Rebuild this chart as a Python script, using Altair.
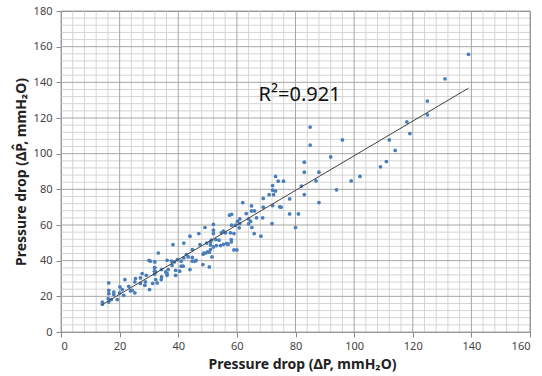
import altair as alt
import pandas as pd

# measured pressure drop (x) vs predicted pressure drop (y), mmH2O
meas = [14.1, 14.1, 16.3, 16.3, 16.3, 16.1, 17.2, 16.3, 18.0, 18.0, 20.0, 19.2, 20.1, 20.9,
        21.8, 23.1, 24.3, 23.7, 25.2, 25.4, 25.2, 21.4,
        27.7, 29.1, 27.1, 28.8, 27.1, 28.6, 30.2, 30.0, 31.3, 32.8, 32.3, 34.2, 34.3, 32.3,
        34.3, 32.0, 32.0, 33.2, 36.6, 36.2, 37.7, 31.9, 31.9, 31.9, 35.7, 36.2, 39.1, 30.5,
        36.2, 38.7, 39.7, 41.0, 41.0, 41.7, 37.9, 39.1, 40.5, 44.0, 38.2, 41.9, 44.0, 44.8,
        42.8, 43.4, 41.9, 44.8, 46.1, 44.8, 45.7,
        47.0, 49.1, 52.0, 52.0, 52.0, 52.8, 54.4, 56.5, 51.3, 51.0, 52.0, 47.4, 48.5, 49.4,
        50.6, 51.5, 48.4, 50.6, 55.4, 54.7, 56.1, 57.8, 53.9, 51.0, 49.7, 55.4, 56.7, 51.0,
        50.0, 48.7, 53.0,
        57.5, 58.2, 61.0, 60.2, 61.0, 59.5, 58.2, 60.8, 59.0, 58.1, 58.1, 57.0, 59.0, 60.0,
        62.0, 65.0, 65.0, 66.0, 63.2, 64.0, 64.7, 64.0, 65.1, 65.9,
        66.7, 68.8, 72.0, 68.2, 69.0, 69.0, 71.0, 72.5, 72.2, 73.2, 72.2, 73.2, 74.1, 75.9,
        72.2, 74.6, 75.1,
        78.0, 78.0, 81.0, 80.0, 82.0, 83.0, 83.0, 83.0, 85.0, 85.0, 87.0, 88.0, 88.0,
        92.0, 94.0, 96.0, 99.0, 102.0, 109.0, 111.0, 112.0, 114.0, 118.0, 119.0, 125.0,
        125.0, 131.0, 139.0]
pred = [16.8, 15.5, 27.5, 23.4, 21.5, 18.7, 18.2, 16.8, 22.4, 21.0, 21.9, 18.2, 25.3, 23.8,
        29.4, 25.6, 23.4, 23.0, 28.1, 30.0, 21.9, 20.6,
        32.8, 31.8, 30.3, 28.1, 27.2, 26.2, 23.8, 40.2, 27.2, 27.5, 29.4, 29.4, 30.9, 33.7,
        35.0, 36.1, 39.3, 44.3, 35.0, 32.8, 39.8, 35.9, 34.1, 32.4, 33.7, 31.8, 31.8, 39.7,
        40.2, 39.3, 40.6, 39.7, 36.9, 36.9, 37.4, 34.6, 34.1, 35.0, 49.0, 49.9, 53.7, 46.2,
        43.4, 42.1, 41.5, 41.8, 40.2, 39.7, 39.7,
        55.2, 58.6, 60.3, 57.1, 55.2, 51.8, 48.5, 49.6, 51.5, 48.8, 47.7, 49.0, 43.6, 44.3,
        44.7, 42.1, 37.8, 36.5, 56.5, 55.6, 55.6, 55.6, 51.5, 50.5, 49.9, 49.2, 49.6, 46.2,
        45.0, 44.3, 48.5,
        65.5, 66.0, 63.4, 62.1, 60.8, 59.9, 59.9, 58.4, 55.2, 51.8, 50.5, 49.2, 46.0, 46.0,
        72.6, 70.7, 67.9, 67.9, 66.4, 63.4, 62.1, 60.6, 58.6, 55.2,
        64.0, 64.0, 60.8, 53.7, 74.9, 70.0, 77.0, 77.0, 79.5, 79.0, 82.1, 87.2, 84.6, 84.6,
        70.9, 70.2, 70.0,
        74.6, 66.2, 66.2, 58.6, 81.8, 77.1, 89.6, 95.2, 114.9, 104.8, 84.7, 89.6, 72.6,
        98.2, 79.7, 107.7, 84.7, 87.2, 92.6, 95.6, 107.7, 101.8, 117.8, 111.3, 129.5,
        121.8, 142.0, 155.7]

fit_x = [14, 139]
fit_y = [15.3, 136.7]

x_major = list(range(0, 161, 20))
y_major = list(range(0, 181, 20))
x_minor = [v for v in range(0, 161, 4) if v % 20]
y_minor = [v for v in range(0, 181, 4) if v % 20]

df = pd.DataFrame({"x": meas, "y": pred})
fit = pd.DataFrame({"x": fit_x, "y": fit_y})
lab = pd.DataFrame({"x": [67.4], "y": [129.6], "t": ["R²=0.921"]})

font = "Noto Sans"
xs = alt.Scale(domain=[0, 160], nice=False)
ys = alt.Scale(domain=[0, 180], nice=False)

xaxis = alt.Axis(
    values=x_major, grid=False, labelOverlap=False,
    title="Pressure drop (ΔP, mmH₂O)", titleX=241,
)
yaxis = alt.Axis(
    values=y_major, grid=False, labelOverlap=False,
    title="Pressure drop (ΔP̂, mmH₂O)",
)

def X(f="x"):
    return alt.X(f + ":Q", scale=xs, axis=xaxis)

def Y(f="y"):
    return alt.Y(f + ":Q", scale=ys, axis=yaxis)

vminor = alt.Chart(pd.DataFrame({"x": x_minor})).mark_rule(color="#d4d4d4", strokeWidth=1).encode(x=X())
hminor = alt.Chart(pd.DataFrame({"y": y_minor})).mark_rule(color="#d4d4d4", strokeWidth=1).encode(y=Y())
vmajor = alt.Chart(pd.DataFrame({"x": x_major})).mark_rule(color="#a6a6a6", strokeWidth=1).encode(x=X())
hmajor = alt.Chart(pd.DataFrame({"y": y_major})).mark_rule(color="#a6a6a6", strokeWidth=1).encode(y=Y())

pts = alt.Chart(df).mark_circle(size=14, color="#4a7ebb", opacity=1).encode(x=X(), y=Y())
line = alt.Chart(fit).mark_line(color="#404040", strokeWidth=1).encode(x=X(), y=Y())
txt = alt.Chart(lab).mark_text(
    align="left", baseline="alphabetic", fontSize=20, font=font, color="#111"
).encode(x=X(), y=Y(), text="t:N")

chart = (
    alt.layer(vminor, hminor, vmajor, hmajor, pts, line, txt)
    .properties(
        width=469, height=321,
        autosize=alt.AutoSizeParams(type="none"),
        padding={"left": 61, "top": 11, "right": 12, "bottom": 44},
        background="white",
    )
    .configure_view(stroke="#888888", strokeWidth=1)
    .configure_axis(
        titleFont=font, titleFontSize=14, titleFontWeight="bold", titleColor="#222",
        labelFont=font, labelFontSize=11, labelColor="#444",
        tickColor="#888888", tickSize=5, domainColor="#888888",
    )
    .configure_axisX(titlePadding=6, labelPadding=3)
    .configure_axisY(titlePadding=5, labelPadding=4)
)

chart.save("out.html", embed_options={"renderer": "svg", "actions": False})
